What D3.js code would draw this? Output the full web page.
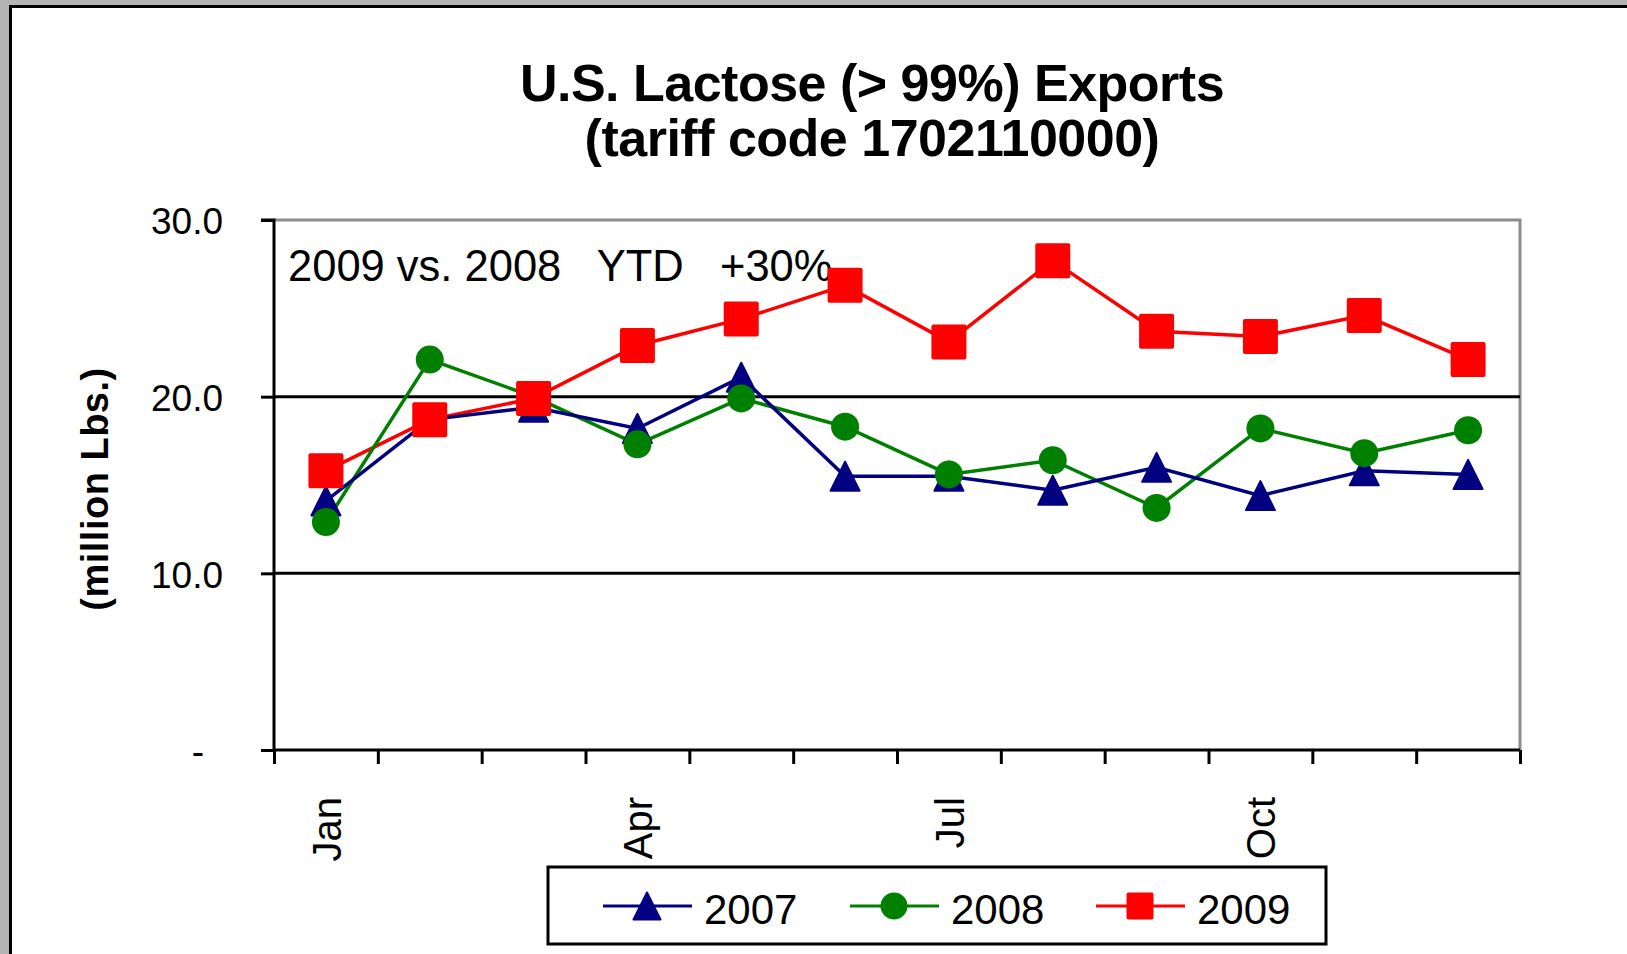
<!DOCTYPE html>
<html>

<head>
    <meta charset="utf-8">
    <title>U.S. Lactose Exports</title>
    <style>
        body {
            margin: 0;
            background: #b4b4b4;
        }

        text {
            font-family: "Liberation Sans", Arial, sans-serif;
        }

        .axis path,
        .axis line {
            stroke: #000;
            stroke-width: 3;
        }

        .axis text {
            font-size: 37px;
            fill: #000;
        }
    </style>
</head>

<body>
    <div id="chart"></div>
    <script src="https://cdn.jsdelivr.net/npm/d3@7"></script>
    <script>
        (function (d3) {
            'use strict';

            var months = ['Jan', 'Feb', 'Mar', 'Apr', 'May', 'Jun', 'Jul', 'Aug', 'Sep', 'Oct', 'Nov', 'Dec'];
            var years = ['2007', '2008', '2009'];
            var values2007 = [14.1, 18.7, 19.4, 18.2, 21.1, 15.5, 15.5, 14.7, 16.0, 14.4, 15.8, 15.6];
            var values2008 = [12.9, 22.1, 20.0, 17.3, 19.9, 18.3, 15.6, 16.4, 13.7, 18.2, 16.8, 18.1];
            var values2009 = [15.8, 18.7, 19.9, 22.9, 24.4, 26.3, 23.1, 27.7, 23.7, 23.4, 24.6, 22.1];
            var yTicks = [0, 10, 20, 30];

            var series = [
                { label: years[0], values: values2007, color: '#000080', shape: 'triangle' },
                { label: years[1], values: values2008, color: '#008000', shape: 'circle' },
                { label: years[2], values: values2009, color: '#ff0000', shape: 'square' }
            ];

            var width = 1627;
            var height = 954;
            var plot = { left: 274, right: 1520, top: 220, bottom: 750 };

            var svg = d3.select('#chart')
                .append('svg')
                .attr('width', width)
                .attr('height', height)
                .style('display', 'block');

            // grey window frame, white chart area
            svg.append('rect')
                .attr('width', width)
                .attr('height', height)
                .attr('fill', '#b4b4b4');
            svg.append('rect')
                .attr('x', 10.5)
                .attr('y', 6.5)
                .attr('width', width)
                .attr('height', height)
                .attr('fill', '#fff')
                .attr('stroke', '#000')
                .attr('stroke-width', 3);

            var x = d3.scaleBand()
                .domain(months)
                .range([plot.left, plot.right])
                .padding(0);
            var xTick = d3.scaleLinear()
                .domain([0, months.length])
                .range([plot.left, plot.right]);
            var y = d3.scaleLinear()
                .domain([0, 30])
                .range([plot.bottom, plot.top]);

            function cx(i) { return x(months[i]) + x.bandwidth() / 2; }

            // title
            var title = svg.append('text')
                .attr('text-anchor', 'middle')
                .style('font-size', '52px')
                .style('font-weight', 'bold')
                .style('letter-spacing', '-0.5px');
            title.append('tspan').attr('x', 872).attr('y', 101).text('U.S. Lactose (> 99%) Exports');
            title.append('tspan').attr('x', 872).attr('y', 156).text('(tariff code 1702110000)');

            // plot border (top/right grey)
            svg.append('path')
                .attr('d', 'M' + plot.left + ',' + y(30) + 'H' + plot.right + 'V' + plot.bottom)
                .attr('fill', 'none')
                .attr('stroke', '#8c8c8c')
                .attr('stroke-width', 3);

            // gridlines
            svg.selectAll('.grid')
                .data(yTicks.filter(function (d) { return d > 0 && d < 30; }))
                .enter()
                .append('line')
                .attr('class', 'grid')
                .attr('x1', plot.left)
                .attr('x2', plot.right)
                .attr('y1', function (d) { return y(d); })
                .attr('y2', function (d) { return y(d); })
                .attr('stroke', '#000')
                .attr('stroke-width', 3);

            // y axis
            var yAxis = svg.append('g')
                .attr('class', 'axis')
                .attr('transform', 'translate(' + plot.left + ',0)')
                .call(d3.axisLeft(y)
                    .tickValues(yTicks)
                    .tickSize(13)
                    .tickPadding(38)
                    .tickFormat(function (d) { return d === 0 ? '-' : d.toFixed(1); }));
            yAxis.select('.domain').attr('d', 'M-13,' + plot.top + 'H0V' + plot.bottom);
            yAxis.selectAll('.tick text')
                .attr('dy', '0.37em')
                .filter(function (d) { return d === 0; })
                .attr('x', -70);

            // x axis
            var xAxis = svg.append('g')
                .attr('class', 'axis')
                .attr('transform', 'translate(0,' + plot.bottom + ')')
                .call(d3.axisBottom(xTick)
                    .tickValues(d3.range(months.length + 1))
                    .tickSize(14)
                    .tickFormat(''));
            xAxis.select('.domain').attr('d', 'M' + plot.left + ',0H' + plot.right);

            svg.selectAll('.month')
                .data(months)
                .enter()
                .filter(function (d, i) { return i % 3 === 0; })
                .append('text')
                .attr('class', 'month')
                .attr('text-anchor', 'end')
                .attr('transform', function (d) {
                    return 'translate(' + (x(d) + x.bandwidth() / 2 + 15) + ',797) rotate(-90)';
                })
                .style('font-size', '40px')
                .text(function (d) { return d; });

            // y axis title
            svg.append('text')
                .attr('text-anchor', 'middle')
                .attr('transform', 'translate(108,489) rotate(-90)')
                .style('font-size', '38px')
                .style('font-weight', 'bold')
                .style('letter-spacing', '0.5px')
                .text('(million Lbs.)');

            // note
            svg.append('text')
                .attr('x', 288)
                .attr('y', 281)
                .style('font-size', '43.5px')
                .style('white-space', 'pre')
                .text('2009 vs. 2008   YTD   +30%');

            function marker(sel, s, size) {
                if (s.shape === 'square') {
                    sel.append('rect')
                        .attr('x', -size / 2)
                        .attr('y', -size / 2)
                        .attr('width', size)
                        .attr('height', size)
                        .attr('rx', 2)
                        .attr('fill', s.color);
                } else if (s.shape === 'circle') {
                    sel.append('circle')
                        .attr('r', size / 2)
                        .attr('fill', s.color);
                } else {
                    var h = size / 2;
                    sel.append('path')
                        .attr('d', 'M0,' + (-h) + 'L' + h + ',' + h + 'L' + (-h) + ',' + h + 'Z')
                        .attr('fill', s.color)
                        .attr('stroke', s.color)
                        .attr('stroke-width', 2)
                        .attr('stroke-linejoin', 'round');
                }
            }

            var line = d3.line()
                .x(function (d, i) { return cx(i); })
                .y(function (d) { return y(d); });

            // lines back to front, then markers
            series.slice().reverse().forEach(function (s) {
                svg.append('path')
                    .attr('d', line(s.values))
                    .attr('fill', 'none')
                    .attr('stroke', s.color)
                    .attr('stroke-width', 3.5);
            });

            var markerSize = { square: 35, circle: 28, triangle: 29 };
            series.forEach(function (s) {
                svg.append('g')
                    .selectAll('g')
                    .data(s.values)
                    .enter()
                    .append('g')
                    .attr('transform', function (d, i) {
                        return 'translate(' + cx(i) + ',' + y(d) + ')';
                    })
                    .each(function () { marker(d3.select(this), s, markerSize[s.shape]); });
            });

            // legend
            var legend = svg.append('g');
            legend.append('rect')
                .attr('x', 548)
                .attr('y', 867)
                .attr('width', 778)
                .attr('height', 77)
                .attr('fill', '#fff')
                .attr('stroke', '#000')
                .attr('stroke-width', 3);

            var legendX = [603, 850, 1096];
            var item = legend.selectAll('.legend')
                .data(series)
                .enter()
                .append('g')
                .attr('class', 'legend')
                .attr('transform', function (d, i) {
                    return 'translate(' + legendX[i] + ',906)';
                });

            item.append('line')
                .attr('x1', 0)
                .attr('x2', 89)
                .attr('stroke', function (d) { return d.color; })
                .attr('stroke-width', 3);
            item.append('g')
                .attr('transform', 'translate(44,0)')
                .each(function (d) { marker(d3.select(this), d, 27); });
            item.append('text')
                .attr('x', 101)
                .attr('y', 18)
                .style('font-size', '42px')
                .text(function (d) { return d.label; });

        })(window.d3);
    </script>
</body>

</html>
